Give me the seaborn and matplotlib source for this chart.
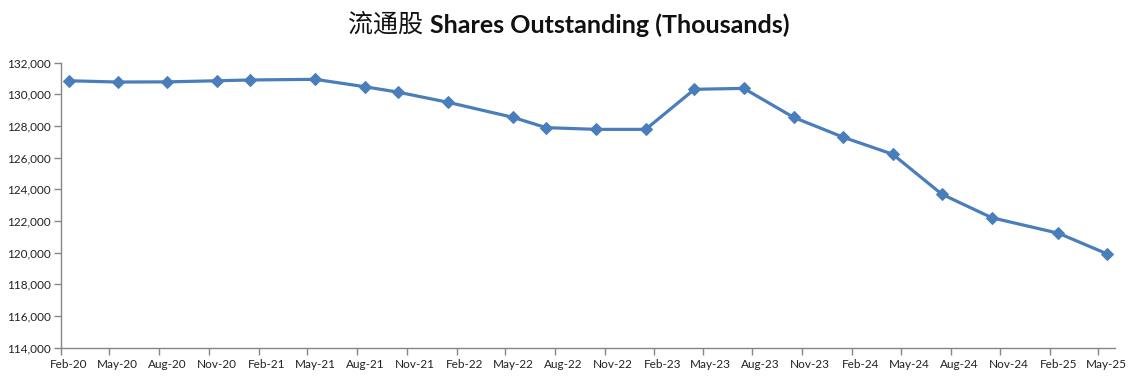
import pandas as pd
import numpy as np
import matplotlib
matplotlib.use('Agg')
import matplotlib.pyplot as plt
import matplotlib.dates as mdates
from matplotlib.ticker import FuncFormatter
import seaborn as sns

# data (thousands of shares)
months = ['2020-02', '2020-05', '2020-08', '2020-11', '2021-01', '2021-05',
          '2021-08', '2021-10', '2022-01', '2022-05', '2022-07', '2022-10',
          '2023-01', '2023-04', '2023-07', '2023-10', '2024-01', '2024-04',
          '2024-07', '2024-10', '2025-02', '2025-05']
shares = [130860, 130780, 130790, 130860, 130910, 130950,
          130480, 130140, 129500, 128550, 127900, 127790,
          127790, 130320, 130380, 128550, 127290, 126220,
          123690, 122210, 121230, 119940]
y_ticks = list(range(114000, 132001, 2000))

sns.set_theme(style='white')
plt.rcParams['font.family'] = ['Lato', 'Noto Sans CJK SC', 'DejaVu Sans']

# each month is a slot, points sit in the middle of their month
df = pd.DataFrame({'month': pd.to_datetime(months), 'shares': shares})
df['x'] = df['month'] + pd.Timedelta(days=15)

fig = plt.figure(figsize=(11.31, 3.81), dpi=100)
ax = fig.add_axes([0.0537, 0.0874, 0.9324, 0.748])

sns.lineplot(data=df, x='x', y='shares', ax=ax, color='#4A7EBB',
             linewidth=2.3, marker='D', markersize=6.5,
             markeredgecolor='#4A7EBB', markerfacecolor='#4A7EBB')

ax.set_xlim(pd.Timestamp('2020-02-01'), pd.Timestamp('2025-06-01'))
ax.set_ylim(114000, 132000)
ax.set_yticks(y_ticks)
ax.yaxis.set_major_formatter(FuncFormatter(lambda v, p: f'{int(v):,}'))

# tick marks on quarter boundaries, labels in the middle of the month slot
ax.xaxis.set_major_locator(mdates.MonthLocator(bymonth=[2, 5, 8, 11], bymonthday=1))
ax.xaxis.set_major_formatter(FuncFormatter(lambda v, p: ''))
ax.xaxis.set_minor_locator(mdates.MonthLocator(bymonth=[2, 5, 8, 11], bymonthday=16))
ax.xaxis.set_minor_formatter(mdates.DateFormatter('%b-%y'))

ax.set_xlabel('')
ax.set_ylabel('')
ax.grid(False)
for side in ['top', 'right']:
    ax.spines[side].set_visible(False)
for side in ['left', 'bottom']:
    ax.spines[side].set_color('#868686')
    ax.spines[side].set_linewidth(1.0)

ax.tick_params(axis='y', which='major', length=5, width=1, color='#868686',
               labelsize=8.5, labelcolor='#222222', pad=2, left=True)
ax.tick_params(axis='x', which='major', length=5, width=1, color='#868686',
               bottom=True, labelsize=0)
ax.tick_params(axis='x', which='minor', length=0, labelsize=8.5,
               labelcolor='#222222', pad=8, bottom=True)

# title: chinese part regular, english part bold
fig.text(423 / 1131, 1 - 25 / 381, '流通股', ha='right', va='center',
         fontsize=18, family=['Noto Sans CJK SC'], color='#111111')
fig.text(430 / 1131, 1 - 25 / 381, 'Shares Outstanding (Thousands)', ha='left',
         va='center', fontsize=18, fontweight='bold', color='#111111')

fig.savefig('out.png', dpi=100)
